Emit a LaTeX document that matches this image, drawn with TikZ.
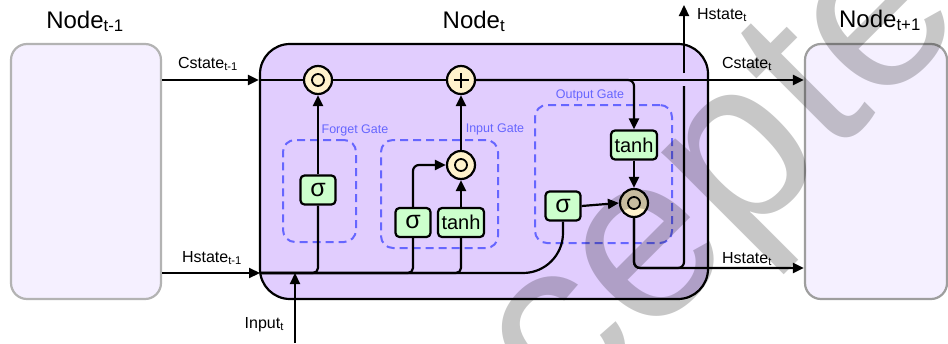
\documentclass[tikz,border=0pt]{standalone}
\usepackage{fontspec}
\setmainfont{Liberation Sans}
\usetikzlibrary{arrows.meta,calc}
\definecolor{cellfill}{HTML}{E1CDFE}
\definecolor{nbfill}{HTML}{F5F0FF}
\definecolor{nbdraw}{HTML}{B3B3B3}
\definecolor{nbdrawb}{HTML}{9E9E9E}
\definecolor{opfill}{HTML}{FFF2CC}
\definecolor{actfill}{HTML}{CCFFCC}
\definecolor{gatecol}{HTML}{6666FF}
\newcommand\mysub[1]{\textsubscript{#1}}
\begin{document}
\begin{tikzpicture}[x=1pt,y=-1pt,line width=2.2pt,
  arr/.style={-{Triangle[length=11pt,width=10pt]}},
  nbr/.style={draw=nbdraw,fill=nbfill,rounded corners=16pt,minimum width=150pt,minimum height=255pt,inner sep=0pt},
  cellbox/.style={draw=black,fill=cellfill,rounded corners=30pt,minimum width=448pt,minimum height=255pt,inner sep=0pt},
  gatebox/.style={draw=gatecol,line width=2pt,dash pattern=on 8pt off 5pt,rounded corners=12pt,inner sep=0pt},
  gatelbl/.style={text=gatecol,font=\fontsize{12.5}{15}\selectfont,anchor=base,inner sep=0pt},
  title/.style={font=\fontsize{24}{28}\selectfont,anchor=base,inner sep=0pt},
  lbl/.style={font=\fontsize{16}{18}\selectfont,anchor=base,inner sep=0pt},
  op/.style={circle,draw=black,fill=opfill,minimum size=28pt,inner sep=0pt},
  odot/.style={op,path picture={\draw[line width=1.8pt] (path picture bounding box.center) circle (6pt);
     \fill (path picture bounding box.center) circle (2pt);}},
  oplus/.style={op,path picture={\draw[line width=2.2pt] ([xshift=-7.5pt]path picture bounding box.center) -- ([xshift=7.5pt]path picture bounding box.center);
     \draw[line width=2.2pt] ([yshift=-7.5pt]path picture bounding box.center) -- ([yshift=7.5pt]path picture bounding box.center);}},
  act/.style={draw=black,fill=actfill,rounded corners=4pt,inner sep=0pt,minimum height=29pt},
  sig/.style={act,minimum width=35pt,font=\fontsize{25}{25}\selectfont},
  th/.style={act,minimum width=46pt,font=\fontsize{20}{20}\selectfont}
]
\useasboundingbox (0,0) rectangle (948,343);
% neighbour and main nodes
\node[nbr] (prev) at (86,171.5) {};
\node[cellbox] (cell) at (484,171.5) {};
\node[nbr,draw=nbdrawb,minimum width=142pt] (next) at (876,171.5) {};
\node[title] (tprev) at (85,28) {Node\mysub{t-1}};
\node[title] (tcell) at (474,28) {Node\mysub{t}};
\node[title] (tnext) at (880,27) {Node\mysub{t+1}};
% gate regions
\node[gatebox,minimum width=73pt,minimum height=102pt] (fg) at (319.5,191) {};
\node[gatebox,minimum width=117pt,minimum height=108pt] (ig) at (439.5,194) {};
\node[gatebox,minimum width=137pt,minimum height=138pt] (og) at (603.5,174) {};
\node[gatelbl] (fgl) at (355,133) {Forget Gate};
\node[gatelbl] (igl) at (495,132) {Input Gate};
\node[gatelbl] (ogl) at (590,98) {Output Gate};
% operators
\node[odot] (fdot) at (318,80) {};
\node[oplus] (plus) at (461,80) {};
\node[odot] (idot) at (461,165) {};
\node[odot] (odotn) at (634,203) {};
% activations
\node[sig] (sigf) at (318,190) {σ};
\node[sig] (sigi) at (413,222.5) {σ};
\node[th] (tanhi) at (461,222.5) {tanh};
\node[sig] (sigo) at (563,206) {σ};
\node[th] (tanho) at (634,145) {tanh};
% coordinates
\coordinate (hin) at (260,273);
\coordinate (inp) at (295,343);
\coordinate (hjoin) at (684,268);
\coordinate (gaplo) at (684,86);
\coordinate (gaphi) at (684,73);
\coordinate (htop) at (684,5);
% cell state
\draw[arr] (prev.east |- fdot) -- (cell.west |- fdot);
\draw (cell.west |- fdot) -- (fdot.west);
\draw (fdot.east) -- (plus.west);
\draw[arr] (plus.east) -- (next.west |- plus);
\draw[arr,rounded corners=6pt] (plus.east) -| (tanho.north);
\draw[arr] (tanho.south) -- (odotn.north);
\draw[arr] (sigo.east) -- (odotn.west);
% hidden state in
\draw[arr] (prev.east |- hin) -- (hin);
\draw[rounded corners=5pt] (hin) -| (sigf.south);
\draw[rounded corners=5pt] (hin) -| (sigi.south);
\draw[rounded corners=5pt] (hin) -| (tanhi.south);
\draw[rounded corners=40pt] (hin) -| (sigo.south);
\draw[arr] (inp) -- (inp |- hin);
% gates
\draw[arr] (sigf.north) -- (fdot.south);
\draw[arr,rounded corners=6pt] (sigi.north) |- (idot.west);
\draw[arr] (tanhi.north) -- (idot.south);
\draw[arr] (idot.north) -- (plus.south);
% hidden state out
\draw[rounded corners=6pt] (odotn.south) |- (hjoin) -- (gaplo);
\draw[arr] (gaphi) -- (htop);
\draw[arr,rounded corners=6pt] (odotn.south) |- (next.west |- hjoin);
% labels
\node[lbl] (lc1) at (208,68) {Cstate\mysub{t-1}};
\node[lbl] (lh1) at (212,262) {Hstate\mysub{t-1}};
\node[lbl] (lc2) at (747,68) {Cstate\mysub{t}};
\node[lbl] (lh2) at (747,263) {Hstate\mysub{t}};
\node[lbl,anchor=base west] (lh3) at (696,19) {Hstate\mysub{t}};
\node[lbl,anchor=base east] (lin) at (285,328) {Input\mysub{t}};
% watermark
\node[rotate=45,text=black,opacity=0.22,font=\fontsize{235}{235}\selectfont,inner sep=0pt] (wm) at (682,222) {accepted};
\end{tikzpicture}
\end{document}
